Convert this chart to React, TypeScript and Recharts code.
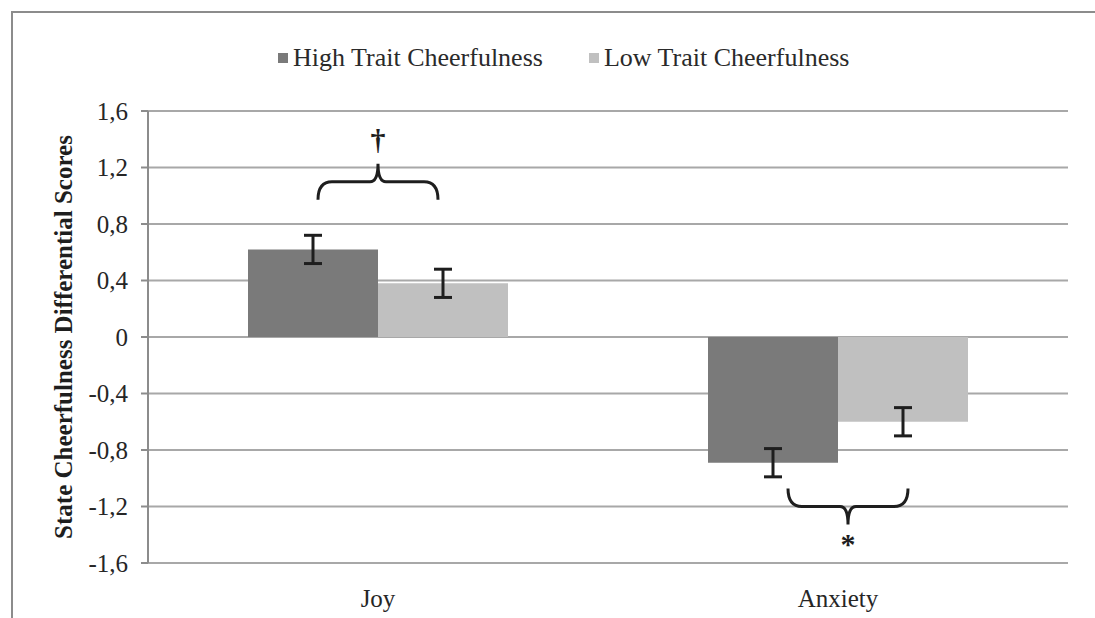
import { BarChart, Bar, XAxis, YAxis, CartesianGrid, Legend, ErrorBar, ReferenceDot } from 'recharts'

const categories = ['Joy', 'Anxiety']
const seriesNames = ['High Trait Cheerfulness', 'Low Trait Cheerfulness']
const highMeans = [0.62, -0.89]
const lowMeans = [0.38, -0.6]
const highErrors = [0.1, 0.1]
const lowErrors = [0.1, 0.1]
const yTicks = [-1.6, -1.2, -0.8, -0.4, 0, 0.4, 0.8, 1.2, 1.6]
const yTickLabels = ['-1,6', '-1,2', '-0,8', '-0,4', '0', '0,4', '0,8', '1,2', '1,6']

// significance braces
const braceCategories = ['Joy', 'Anxiety']
const braceLevels = [1.1, -1.2]
const symbolLevels = [1.38, -1.44]
const braceSymbols = ['†', '*']

const HIGH = '#7a7a7a'
const LOW = '#c0c0c0'
const GRID = '#a8a8a8'
const INK = '#1e1e1e'
const FONT = '"Liberation Serif", "Times New Roman", serif'
const BRACE_DIR = [-1, 1]
const BRACE_SHIFT = [0, 10]

const data = categories.map((name, i) => ({
  name,
  high: highMeans[i],
  low: lowMeans[i],
  highErr: highErrors[i],
  lowErr: lowErrors[i],
}))

function Brace({ cx, cy, dir, shift }: { cx?: number; cy?: number; dir: number; shift: number }) {
  if (cx == null || cy == null) return null
  const w = 60
  const h = 18
  const e = -dir * h
  const t = dir * h
  const d = `M${-w},${e} Q${-w},0 ${-w + 14},0 L-8,0 Q0,0 0,${t} Q0,0 8,0 L${w - 14},0 Q${w},0 ${w},${e}`
  return (
    <g transform={`translate(${cx + shift},${cy})`}>
      <path d={d} fill="none" stroke={INK} strokeWidth={3} />
    </g>
  )
}

function Symbol({ cx, cy, text, shift, up }: { cx?: number; cy?: number; text: string; shift: number; up: boolean }) {
  if (cx == null || cy == null) return null
  return (
    <text
      x={cx + shift}
      y={cy + (up ? 8 : 14)}
      textAnchor="middle"
      fontFamily={FONT}
      fontSize={30}
      fontWeight="bold"
      fill={INK}
    >
      {text}
    </text>
  )
}

function LegendContent() {
  const colors = [HIGH, LOW]
  return (
    <div style={{ display: 'flex', alignItems: 'center', paddingLeft: 278, height: 40 }}>
      {seriesNames.map((n, i) => (
        <div key={n} style={{ display: 'flex', alignItems: 'center', marginRight: 46 }}>
          <span style={{ width: 10, height: 10, background: colors[i], marginRight: 5, display: 'inline-block' }} />
          <span style={{ fontFamily: FONT, fontSize: 26, color: '#2a2a2a', lineHeight: '40px' }}>{n}</span>
        </div>
      ))}
    </div>
  )
}

function YLabel({ viewBox }: any) {
  const cy = viewBox ? viewBox.y + viewBox.height / 2 : 337
  return (
    <text
      x={0}
      y={0}
      transform={`translate(63,${cy}) rotate(-90)`}
      textAnchor="middle"
      dominantBaseline="central"
      fontFamily={FONT}
      fontSize={25}
      fontWeight="bold"
      fill={INK}
    >
      State Cheerfulness Differential Scores
    </text>
  )
}

export default function App() {
  return (
    <div style={{ position: 'fixed', left: 0, top: 0, width: 1095, height: 618, overflow: 'hidden', background: '#fff' }}>
      <div style={{ position: 'absolute', left: 11, top: 11, width: 1084, height: 2, background: '#8c8c8c' }} />
      <div style={{ position: 'absolute', left: 11, top: 11, width: 2, height: 607, background: '#8c8c8c' }} />
      <BarChart
        width={1095}
        height={618}
        data={data}
        margin={{ top: 71, right: 27, bottom: 25, left: 0 }}
        barCategoryGap={100}
        barGap={0}
        style={{ position: 'absolute', left: 0, top: 0 }}
      >
        <CartesianGrid vertical={false} stroke={GRID} strokeWidth={2} />
        <Legend
          verticalAlign="top"
          content={<LegendContent />}
          wrapperStyle={{ top: 38, left: 0, width: 1095, height: 40 }}
        />
        <XAxis
          dataKey="name"
          axisLine={{ stroke: GRID, strokeWidth: 2 }}
          tickLine={false}
          tickSize={0}
          tickMargin={26}
          tick={{ fontFamily: FONT, fontSize: 25, fill: '#262626' }}
        />
        <YAxis
          width={148}
          domain={[-1.6, 1.6]}
          ticks={yTicks}
          interval={0}
          tickFormatter={(v: number) => yTickLabels[yTicks.findIndex(t => Math.abs(t - v) < 1e-6)] ?? String(v)}
          axisLine={{ stroke: '#8c8c8c', strokeWidth: 2 }}
          tickLine={{ stroke: '#8c8c8c', strokeWidth: 2 }}
          tickSize={7}
          tickMargin={13}
          tick={{ fontFamily: FONT, fontSize: 25, fill: '#262626' }}
          label={<YLabel />}
        />
        <Bar dataKey="high" name={seriesNames[0]} fill={HIGH} isAnimationActive={false}>
          <ErrorBar dataKey="highErr" width={9} stroke={INK} strokeWidth={3} />
        </Bar>
        <Bar dataKey="low" name={seriesNames[1]} fill={LOW} isAnimationActive={false}>
          <ErrorBar dataKey="lowErr" width={9} stroke={INK} strokeWidth={3} />
        </Bar>
        {braceCategories.map((c, i) => (
          <ReferenceDot
            key={'b' + c}
            x={c}
            y={braceLevels[i]}
            r={0}
            shape={(p: any) => <Brace cx={p.cx} cy={p.cy} dir={BRACE_DIR[i]} shift={BRACE_SHIFT[i]} />}
          />
        ))}
        {braceCategories.map((c, i) => (
          <ReferenceDot
            key={'s' + c}
            x={c}
            y={symbolLevels[i]}
            r={0}
            shape={(p: any) => <Symbol cx={p.cx} cy={p.cy} text={braceSymbols[i]} shift={BRACE_SHIFT[i]} up={i === 0} />}
          />
        ))}
      </BarChart>
    </div>
  )
}
